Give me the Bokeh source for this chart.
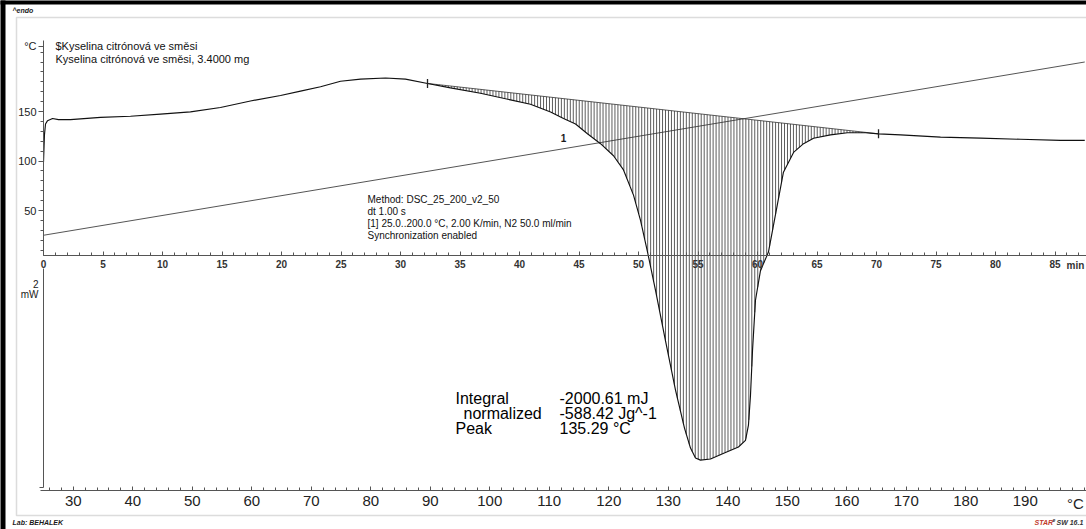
import numpy as np
from bokeh.plotting import figure
from bokeh.models import Range1d, LinearAxis, FixedTicker, Label, BoxAnnotation
from bokeh.embed import file_html
from bokeh.resources import INLINE

# ---------------- data ----------------
# DSC curve: time (min) and heat flow (mW, arbitrary offset)
time_min = [0.00, 0.08, 0.17, 0.34, 0.76, 1.26, 2.27, 4.79, 7.31, 9.83, 12.35, 14.87,
            17.39, 19.92, 21.60, 23.28, 24.96, 26.64, 28.74, 30.42, 32.27, 34.20, 36.72,
            39.24, 40.92, 42.61, 43.70, 44.71, 45.71, 46.81, 47.90, 48.74, 49.58, 50.17,
            50.76, 51.43, 52.27, 53.11, 53.87, 54.37, 54.79, 55.21, 56.05, 57.31, 58.40,
            58.99, 59.24, 59.41, 59.58, 59.83, 60.25, 60.92, 61.68, 62.18, 63.03, 63.87,
            64.71, 66.13, 67.56, 69.08, 70.17, 72.02, 75.38, 78.74, 82.10, 85.46, 87.50]
heat_flow_mw = [0.97, 1.22, 1.32, 1.35, 1.37, 1.36, 1.36, 1.38, 1.39, 1.41, 1.43, 1.47,
                1.53, 1.58, 1.62, 1.66, 1.71, 1.73, 1.74, 1.73, 1.69, 1.65, 1.60,
                1.54, 1.50, 1.43, 1.37, 1.32, 1.23, 1.14, 1.03, 0.90, 0.67, 0.44,
                0.15, -0.20, -0.66, -1.11, -1.46, -1.64, -1.73, -1.75, -1.74, -1.68, -1.63,
                -1.57, -1.43, -1.16, -0.75, -0.29, -0.02, 0.15, 0.59, 0.88, 1.06, 1.14,
                1.19, 1.22, 1.24, 1.24, 1.23, 1.22, 1.20, 1.19, 1.18, 1.17, 1.17]

# temperature program
temp_start_c = 25.0
temp_end_c = 200.0
heating_rate = 2.0  # K/min

# integration limits (min)
int_start_min = 32.27
int_end_min = 70.17
hatch_step_min = 0.25

# ticks
top_ticks_min = list(range(0, 90, 5))
left_ticks_c = [50, 100, 150]
bottom_ticks_c = list(range(30, 200, 10))

sample_lines = ["$Kyselina citrónová ve směsi",
                "Kyselina citrónová ve směsi, 3.4000 mg"]
method_lines = ["Method: DSC_25_200_v2_50",
                "dt 1.00 s",
                "[1] 25.0..200.0 °C, 2.00 K/min, N2 50.0 ml/min",
                "Synchronization enabled"]
result_names = ["Integral", "normalized", "Peak"]
result_values = ["-2000.61 mJ", "-588.42 Jg^-1", "135.29 °C"]

# ---------------- layout helpers (page pixel -> data) ----------------
W, H = 1086, 529
PX_PER_MIN = 11.9
PX_PER_C = 0.99
PX_PER_MW = 109.5
X0_PAGE = 43.0       # page x of t = 0
Y50_PAGE = 210.0     # page y of 50 degC
Y0MW_PAGE = 268.0    # page y of 0 mW (top of scale bar)


def tx(px):
    return (px - X0_PAGE) / PX_PER_MIN


def cy(py):
    return 50.0 + (Y50_PAGE - py) / PX_PER_C


def my(py):
    return (Y0MW_PAGE - py) / PX_PER_MW


p = figure(width=W, height=H, output_backend="svg", toolbar_location=None,
           x_axis_type=None, y_axis_type=None,
           x_range=Range1d(tx(0), tx(W)), y_range=Range1d(cy(H), cy(0)),
           min_border_left=0, min_border_right=0, min_border_top=0, min_border_bottom=0)
p.extra_y_ranges = {"mw": Range1d(my(H), my(0))}
p.extra_x_ranges = {"temp": Range1d(temp_start_c + heating_rate * tx(0),
                                    temp_start_c + heating_rate * tx(W))}
p.outline_line_color = None
p.background_fill_color = "white"
p.border_fill_color = "white"

FONT = "Liberation Sans"
AXC = "#555555"

# black outer border and gray inner box
p.add_layout(BoxAnnotation(left=tx(-5), right=tx(5), bottom=cy(H + 5), top=cy(-5),
                           fill_color="black", fill_alpha=1.0, line_color=None))
p.add_layout(BoxAnnotation(left=tx(-5), right=tx(W + 5), bottom=cy(4), top=cy(-5),
                           fill_color="black", fill_alpha=1.0, line_color=None))
p.add_layout(BoxAnnotation(left=tx(16), right=tx(W + 20), bottom=cy(515), top=cy(17),
                           fill_color=None, fill_alpha=0, line_color="#8c8c8c", line_width=1.5))

# left degC axis
ax_c = LinearAxis(fixed_location=0, bounds=(cy(255), cy(40)),
                  ticker=FixedTicker(ticks=left_ticks_c + [216],
                                     minor_ticks=list(range(10, 220, 10))),
                  major_label_overrides={216: "°C"},
                  axis_line_color=AXC, major_tick_line_color=AXC, minor_tick_line_color=AXC,
                  major_tick_out=5, major_tick_in=0, minor_tick_out=3, minor_tick_in=0,
                  major_label_standoff=2, major_label_text_font=FONT,
                  major_label_text_font_size="11px", major_label_text_color="#222222")
p.add_layout(ax_c, "left")

# mW scale bar
ax_mw = LinearAxis(y_range_name="mw", fixed_location=0, bounds=(-2, 0),
                   ticker=FixedTicker(ticks=[-2], minor_ticks=[]),
                   major_label_overrides={-2: ""},
                   axis_line_color=AXC, major_tick_line_color=AXC,
                   major_tick_out=4, major_tick_in=0)
p.add_layout(ax_mw, "left")

# time axis (middle)
ax_t = LinearAxis(fixed_location=cy(255), bounds=(0, tx(W)),
                  ticker=FixedTicker(ticks=top_ticks_min,
                                     minor_ticks=list(range(0, 92, 1))),
                  axis_line_color=AXC, major_tick_line_color=AXC, minor_tick_line_color=AXC,
                  major_tick_out=0, major_tick_in=4, minor_tick_out=0, minor_tick_in=3,
                  major_label_standoff=4, major_label_text_font=FONT,
                  major_label_text_font_size="10px", major_label_text_font_style="bold",
                  major_label_text_color="#333333")
p.add_layout(ax_t, "below")

# temperature axis (bottom)
ax_T = LinearAxis(x_range_name="temp", fixed_location=cy(490), bounds=(24.5, 205),
                  ticker=FixedTicker(ticks=bottom_ticks_c,
                                     minor_ticks=list(range(26, 206, 2))),
                  axis_line_color=AXC, major_tick_line_color=AXC, minor_tick_line_color=AXC,
                  major_tick_out=0, major_tick_in=4, minor_tick_out=0, minor_tick_in=3,
                  major_label_standoff=5, major_label_text_font=FONT,
                  major_label_text_font_size="15px", major_label_text_color="#222222")
p.add_layout(ax_T, "below")

# temperature program line
prog_t = np.array([0.0, (temp_end_c - temp_start_c) / heating_rate])
prog_T = temp_start_c + heating_rate * prog_t
p.line(prog_t, prog_T, line_color="#555555", line_width=1)

# hatch of integrated area
t_arr = np.array(time_min)
hf_arr = np.array(heat_flow_mw)
hf_s = np.interp(int_start_min, t_arr, hf_arr)
hf_e = np.interp(int_end_min, t_arr, hf_arr)
ht = np.arange(int_start_min, int_end_min, hatch_step_min)
base = hf_s + (hf_e - hf_s) * (ht - int_start_min) / (int_end_min - int_start_min)
curv = np.interp(ht, t_arr, hf_arr)
p.segment(x0=ht, y0=base, x1=ht, y1=curv, y_range_name="mw", line_color="#333333", line_width=0.8)
p.line([int_start_min, int_end_min], [hf_s, hf_e], y_range_name="mw", line_color="#333333", line_width=0.8)

# DSC curve
p.line(time_min, heat_flow_mw, y_range_name="mw", line_color="#111111", line_width=1.15)
p.scatter([int_start_min, int_end_min], [hf_s, hf_e], y_range_name="mw", marker="dash",
          angle=np.pi / 2, size=9, line_color="#222222", line_width=1.3)


def lab(px, py, text, size="10px", style="normal", align="left", color="#1a1a1a"):
    p.add_layout(Label(x=tx(px), y=cy(py), text=text, text_font=FONT, text_font_size=size,
                       text_font_style=style, text_align=align, text_baseline="middle",
                       text_color=color))


for i, s in enumerate(sample_lines):
    lab(55, 45 + 13 * i, s, "11px", "normal", "left", "#111111")
for i, s in enumerate(method_lines):
    lab(367, 199 + 12 * i, s, "10px", "normal", "left", "#111111")
lab(563, 137, "1", "10px", "bold", "center")
for i, (n, v) in enumerate(zip(result_names, result_values)):
    lab(455 + (8 if i == 1 else 0), 398 + 15 * i, n, "16px", "normal", "left", "#000000")
    lab(559, 398 + 15 * i, v, "16px", "normal", "left", "#000000")
lab(38, 283, "2", "10px", "normal", "right")
lab(38, 294, "mW", "10px", "normal", "right")
lab(1075, 265, "min", "10px", "bold", "center", "#333333")
lab(1075, 503, "°C", "15px", "normal", "center", "#222222")
lab(12, 10, "^endo", "7px", "bold italic")
lab(12, 522, "Lab: BEHALEK", "7px", "bold italic")
lab(1034, 522, "STAR", "7px", "bold italic", "left", "#c0392b")
lab(1052, 519, "e", "5px", "bold italic", "left", "#333333")
lab(1056, 522, "SW 16.1", "7px", "bold italic", "left", "#333333")

open("out.html", "w").write(file_html(p, INLINE))
